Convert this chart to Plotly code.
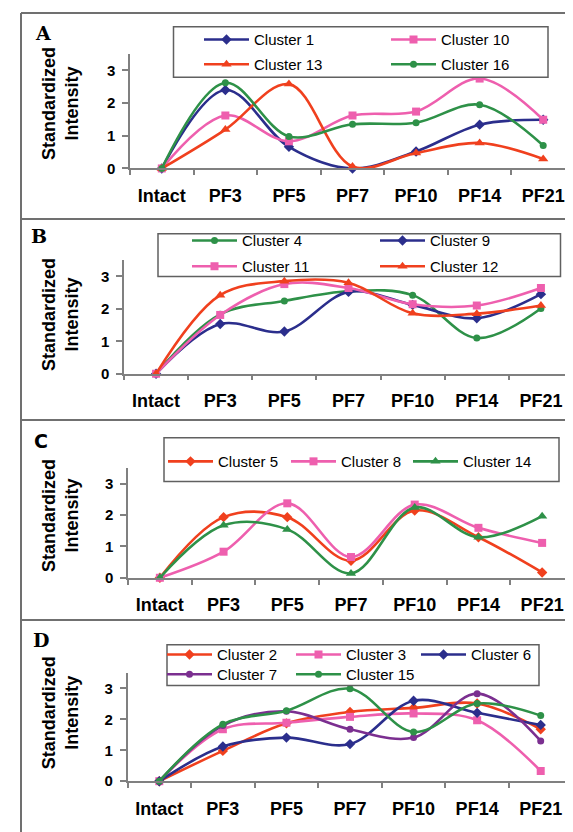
import plotly.graph_objects as go

W, H = 573, 832

categories = ["Intact", "PF3", "PF5", "PF7", "PF10", "PF14", "PF21"]

# Panel A
cluster1 = [0, 2.40, 0.66, 0.00, 0.52, 1.34, 1.49]
cluster10 = [0, 1.62, 0.83, 1.62, 1.74, 2.75, 1.49]
cluster13 = [0, 1.19, 2.58, 0.06, 0.47, 0.78, 0.29]
cluster16 = [0, 2.62, 0.98, 1.35, 1.40, 1.95, 0.70]
# Panel B
cluster4 = [0, 1.83, 2.24, 2.54, 2.42, 1.10, 2.01]
cluster9 = [0, 1.53, 1.30, 2.52, 2.12, 1.71, 2.45]
cluster11 = [0, 1.81, 2.76, 2.64, 2.14, 2.10, 2.64]
cluster12 = [0, 2.42, 2.85, 2.80, 1.86, 1.85, 2.10]
# Panel C
cluster5 = [0, 1.93, 1.93, 0.54, 2.14, 1.29, 0.17]
cluster8 = [0, 0.83, 2.37, 0.66, 2.33, 1.59, 1.11]
cluster14 = [0, 1.67, 1.54, 0.14, 2.24, 1.29, 1.96]
# Panel D
cluster2 = [0, 0.98, 1.87, 2.24, 2.37, 2.51, 1.68]
cluster3 = [0, 1.68, 1.89, 2.08, 2.19, 1.97, 0.33]
cluster6 = [0, 1.12, 1.41, 1.20, 2.60, 2.21, 1.82]
cluster7 = [0, 1.80, 2.26, 1.68, 1.41, 2.83, 1.30]
cluster15 = [0, 1.84, 2.28, 2.99, 1.59, 2.51, 2.12]

y_ticks = [0, 1, 2, 3]
panel_letters = ["A", "B", "C", "D"]

NAVY = "#2b2e8c"
PINK = "#ee5fae"
RED = "#f0401e"
GREEN = "#2e9148"
PURPLE = "#7b2f90"
AXC = "#808080"


def px(x):
    return x / W


def py(y):
    return 1 - y / H


# panel geometry in pixels: (x0, x1, ytop, ybottom)
panels = [
    (122, 567, 46.5, 162.0),
    (116, 565, 254.5, 369.3),
    (120, 566, 464.3, 575.3),
    (119.5, 564.5, 671.4, 780.7),
]

# series: (panel index, name, values, color, symbol, size, legend px x, legend px y)
series = [
    (0, "Cluster 1", cluster1, NAVY, "diamond", 8, 200, 32),
    (0, "Cluster 10", cluster10, PINK, "square", 8, 387, 32),
    (0, "Cluster 13", cluster13, RED, "triangle-up", 9, 200, 57),
    (0, "Cluster 16", cluster16, GREEN, "circle", 7, 387, 57),
    (1, "Cluster 4", cluster4, GREEN, "circle", 7, 188, 235),
    (1, "Cluster 9", cluster9, NAVY, "diamond", 8, 376, 235),
    (1, "Cluster 11", cluster11, PINK, "square", 8, 188, 261),
    (1, "Cluster 12", cluster12, RED, "triangle-up", 9, 376, 261),
    (2, "Cluster 5", cluster5, RED, "diamond", 8, 164, 458),
    (2, "Cluster 8", cluster8, PINK, "square", 8, 287, 458),
    (2, "Cluster 14", cluster14, GREEN, "triangle-up", 9, 409, 458),
    (3, "Cluster 2", cluster2, RED, "diamond", 8, 163, 653),
    (3, "Cluster 3", cluster3, PINK, "square", 8, 292, 653),
    (3, "Cluster 6", cluster6, NAVY, "diamond", 8, 417, 653),
    (3, "Cluster 7", cluster7, PURPLE, "circle", 7, 163, 673),
    (3, "Cluster 15", cluster15, GREEN, "circle", 7, 292, 673),
]

fig = go.Figure()
layout = dict(
    width=W, height=H,
    margin=dict(l=0, r=0, t=0, b=0),
    paper_bgcolor="white", plot_bgcolor="white",
    font=dict(family="Liberation Sans, Arial, sans-serif", color="black"),
    showlegend=True,
)

LEG_OFF = 9  # offset of legend line start from legend x

for i, (pi, name, vals, col, sym, size, lx, ly) in enumerate(series):
    lname = "legend" if i == 0 else f"legend{i + 1}"
    ax = "" if pi == 0 else str(pi + 1)
    fig.add_trace(go.Scatter(
        x=categories, y=vals, name=name,
        mode="lines+markers",
        line=dict(color=col, width=2.6, shape="spline", smoothing=1.0),
        marker=dict(color=col, symbol=sym, size=size),
        cliponaxis=False,
        xaxis="x" + ax, yaxis="y" + ax,
        legend=lname,
    ))
    layout[lname] = dict(
        x=px(lx - LEG_OFF), y=py(ly), xanchor="left", yanchor="middle",
        orientation="h", bgcolor="rgba(0,0,0,0)", borderwidth=0,
        itemwidth=45, font=dict(size=15, color="black"),
        itemclick=False,
    )

shapes = []
annotations = []
for pi, (x0, x1, yt, yb) in enumerate(panels):
    ax = "" if pi == 0 else str(pi + 1)
    layout["xaxis" + ax] = dict(
        domain=[px(x0), px(x1)], anchor="y" + ax,
        type="category", categoryorder="array", categoryarray=categories,
        range=[-0.5, 6.5], tickson="boundaries",
        ticks="outside", ticklen=5, tickcolor=AXC, tickwidth=1.5,
        showline=True, linecolor=AXC, linewidth=1.5, showgrid=False,
        tickfont=dict(size=18, family="Liberation Sans, Arial, sans-serif", color="black", weight="bold"),
        ticklabelstandoff=10,
        fixedrange=True,
    )
    layout["yaxis" + ax] = dict(
        domain=[py(yb), py(yt)], anchor="x" + ax,
        range=[0, 3.5], tickmode="array", tickvals=y_ticks,
        ticks="outside", ticklen=6, tickcolor=AXC, tickwidth=1.5,
        showline=True, linecolor=AXC, linewidth=1.5, showgrid=False, zeroline=False,
        tickfont=dict(size=15, family="Liberation Sans, Arial, sans-serif", color="black", weight="bold"),
        ticklabelstandoff=4,
        fixedrange=True,
    )

# legend frames
legend_boxes = [(165.5, 19, 540, 70), (150, 228, 552.5, 271), (156, 434, 551, 478), (159, 643, 531, 684)]
for (bx0, by0, bx1, by1) in legend_boxes:
    shapes.append(dict(type="rect", xref="paper", yref="paper",
                       x0=px(bx0), x1=px(bx1), y0=py(by1), y1=py(by0),
                       line=dict(color="#606060", width=1.5), fillcolor="white", layer="above"))

# figure frame and separators
frame_col = "#707070"
shapes.append(dict(type="line", xref="paper", yref="paper", x0=px(13), x1=px(13), y0=0, y1=py(5),
                   line=dict(color=frame_col, width=2)))
for yy in [5, 213, 416, 618]:
    shapes.append(dict(type="line", xref="paper", yref="paper", x0=px(13), x1=1, y0=py(yy), y1=py(yy),
                       line=dict(color=frame_col, width=2)))

# panel letters
letter_pos = [(35, 25), (31, 230), (33, 437), (33, 638)]
for letter, (lx, ly) in zip(panel_letters, letter_pos):
    fam = "DejaVu Sans, sans-serif" if letter == "C" else "DejaVu Serif, serif"
    annotations.append(dict(text=f"<b>{letter}</b>", xref="paper", yref="paper", x=px(lx), y=py(ly),
                            xanchor="center", yanchor="middle", showarrow=False,
                            font=dict(size=19, family=fam, color="black")))

# y-axis titles
title_y = [97, 310, 513, 712]
for ty in title_y:
    annotations.append(dict(text="<b>Standardized<br>Intensity</b>", xref="paper", yref="paper",
                            x=px(52), y=py(ty), xanchor="center", yanchor="middle", showarrow=False,
                            textangle=-90,
                            font=dict(size=18, family="Liberation Sans, Arial, sans-serif", color="black")))

layout["shapes"] = shapes
layout["annotations"] = annotations
fig.update_layout(**layout)
fig.write_html("out.html")
